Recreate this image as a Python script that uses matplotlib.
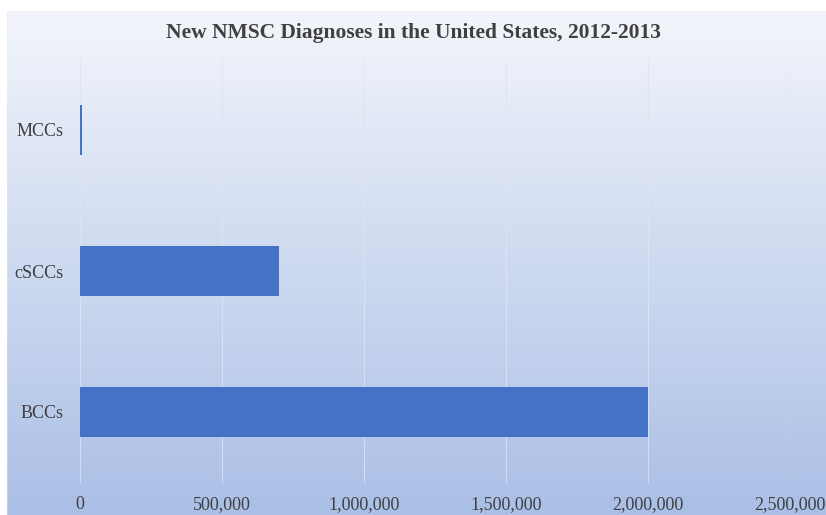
import matplotlib.pyplot as plt
import numpy as np
from matplotlib.colors import LinearSegmentedColormap
from matplotlib.patches import Rectangle
from matplotlib.ticker import FuncFormatter

categories = ['BCCs', 'cSCCs', 'MCCs']
diagnoses = [2000000, 700000, 8000]
x_ticks = [0, 500000, 1000000, 1500000, 2000000, 2500000]

plt.rcParams['font.family'] = ['Liberation Serif', 'DejaVu Serif']

fig = plt.figure(figsize=(8.26, 5.15), dpi=100)

# gradient background for the chart area
bg = fig.add_axes([0, 0, 1, 1], zorder=0)
grad = np.linspace(0, 1, 256).reshape(-1, 1)
cmap = LinearSegmentedColormap.from_list('bg', ['#f4f6fb', '#aabfe6'])
bg.imshow(grad, aspect='auto', cmap=cmap, extent=[0, 1, 0, 1], origin='upper')
bg.add_patch(Rectangle((6 / 826, -0.01), 1, 1 - 10 / 515 + 0.01, fill=False,
                       edgecolor='#d0d0d8', linewidth=1))
bg.fill_between([0, 1], 1 - 10 / 515, 1, color='white')
bg.fill_between([0, 6 / 826], 0, 1, color='white')
bg.set_xlim(0, 1)
bg.set_ylim(0, 1)
bg.axis('off')

ax = fig.add_axes([80 / 826, 1 - 482.5 / 515, 710 / 826, 423 / 515], zorder=1)
ax.patch.set_alpha(0)

ax.barh(categories, diagnoses, height=0.355, color='#4472c4', zorder=3)

ax.set_xlim(0, 2500000)
ax.set_ylim(-0.5, 2.5)
ax.set_xticks(x_ticks)
ax.xaxis.set_major_formatter(FuncFormatter(lambda v, p: f'{int(v):,}'))
ax.grid(axis='x', color='#dfe5f0', linewidth=0.8, alpha=0.8, zorder=0)
for s in ax.spines.values():
    s.set_visible(False)
ax.tick_params(axis='both', length=0, labelsize=13, colors='#404040')
ax.tick_params(axis='x', pad=10)
ax.tick_params(axis='y', pad=12)

fig.text(0.5, 1 - 33 / 515, 'New NMSC Diagnoses in the United States, 2012-2013',
         ha='center', va='center', fontsize=15.5, fontweight='bold', color='#404040')

plt.savefig('out.png', dpi=100)
